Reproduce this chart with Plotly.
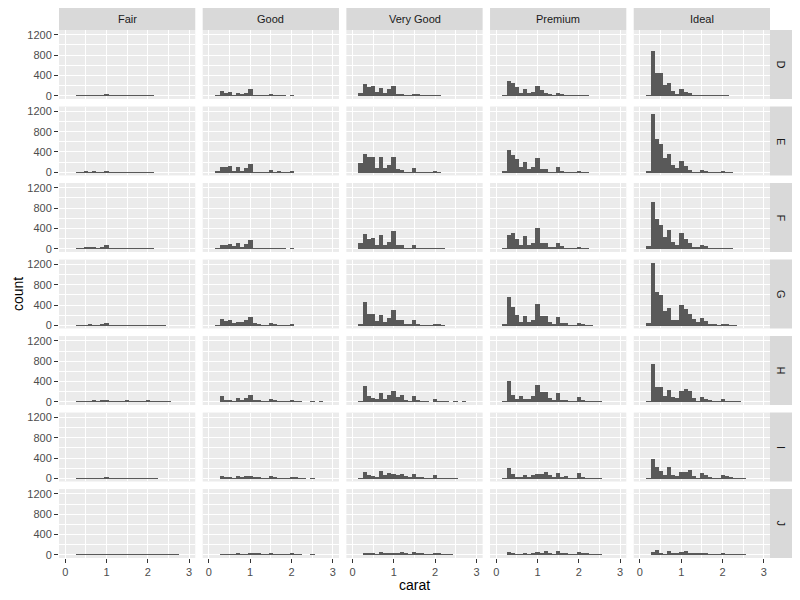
import plotly.graph_objects as go
from plotly.subplots import make_subplots

cuts = ["Fair", "Good", "Very Good", "Premium", "Ideal"]
colors = ["D", "E", "F", "G", "H", "I", "J"]

# histogram bin centres (carat, binwidth 0.1)
carat_mid = [0.2, 0.3, 0.4, 0.5, 0.6, 0.7, 0.8, 0.9, 1.0, 1.1, 1.2, 1.3, 1.4, 1.5,
             1.6, 1.7, 1.8, 1.9, 2.0, 2.1, 2.2, 2.3, 2.4, 2.5, 2.6, 2.7, 2.8, 2.9]

x_ticks = [0, 1, 2, 3]
y_ticks = [0, 400, 800, 1200]

counts_D = {
    "Fair":      [0, 3, 5, 5, 8, 5, 12, 3, 33, 5, 3, 3, 3, 10, 2, 2, 2, 2, 7, 3, 0, 0, 0, 0, 0, 0, 0, 0],
    "Good":      [10, 92, 60, 73, 13, 60, 20, 60, 132, 13, 13, 5, 3, 20, 5, 7, 2, 0, 13, 0, 0, 0, 0, 0, 0, 0, 0, 0],
    "Very Good": [53, 231, 178, 191, 73, 152, 46, 132, 198, 33, 20, 7, 7, 33, 20, 13, 13, 5, 13, 3, 0, 0, 0, 0, 0, 0, 0, 0],
    "Premium":   [10, 290, 257, 178, 60, 132, 60, 73, 191, 112, 60, 33, 13, 53, 20, 13, 7, 5, 13, 3, 3, 0, 0, 0, 0, 0, 0, 0],
    "Ideal":     [10, 882, 454, 454, 211, 257, 92, 40, 132, 79, 53, 10, 5, 13, 5, 3, 3, 3, 5, 2, 0, 0, 0, 0, 0, 0, 0, 0],
}
counts_E = {
    "Fair":      [0, 5, 10, 20, 15, 20, 3, 12, 40, 5, 3, 2, 2, 12, 2, 2, 2, 2, 8, 2, 0, 0, 0, 0, 0, 0, 0, 0],
    "Good":      [40, 118, 118, 131, 20, 112, 20, 92, 170, 13, 13, 5, 3, 52, 5, 20, 3, 2, 20, 0, 0, 0, 0, 0, 0, 0, 0, 0],
    "Very Good": [197, 367, 302, 302, 98, 302, 98, 150, 302, 66, 46, 13, 7, 100, 13, 10, 5, 5, 20, 5, 0, 0, 0, 0, 0, 0, 0, 0],
    "Premium":   [26, 446, 348, 262, 118, 216, 79, 118, 289, 72, 72, 13, 13, 112, 20, 7, 5, 5, 20, 5, 3, 0, 0, 0, 0, 0, 0, 0],
    "Ideal":     [40, 1155, 663, 558, 289, 361, 151, 85, 230, 131, 59, 7, 13, 52, 40, 13, 7, 5, 20, 5, 3, 0, 0, 0, 0, 0, 0, 0],
}
counts_F = {
    "Fair":      [0, 5, 12, 25, 20, 30, 5, 25, 70, 10, 5, 5, 5, 12, 3, 3, 2, 2, 8, 3, 0, 0, 0, 0, 0, 0, 0, 0],
    "Good":      [13, 73, 73, 92, 46, 112, 33, 92, 172, 13, 13, 5, 5, 13, 5, 5, 2, 0, 13, 0, 0, 0, 0, 0, 0, 0, 0, 0],
    "Very Good": [112, 290, 198, 211, 73, 270, 73, 132, 350, 73, 73, 13, 7, 73, 13, 13, 7, 5, 13, 13, 3, 0, 0, 0, 0, 0, 0, 0],
    "Premium":   [7, 270, 310, 191, 80, 251, 80, 112, 409, 112, 112, 33, 20, 112, 46, 13, 7, 5, 20, 5, 3, 0, 0, 0, 0, 0, 0, 0],
    "Ideal":     [53, 924, 587, 469, 231, 370, 132, 73, 310, 191, 112, 33, 20, 73, 46, 13, 7, 5, 13, 7, 3, 0, 0, 0, 0, 0, 0, 0],
}
counts_G = {
    "Fair":      [0, 5, 15, 12, 35, 15, 15, 20, 60, 15, 8, 5, 3, 12, 3, 3, 3, 3, 15, 12, 3, 3, 5, 0, 0, 0, 0, 0],
    "Good":      [7, 138, 92, 105, 52, 79, 66, 118, 170, 46, 20, 13, 7, 59, 20, 13, 5, 3, 20, 0, 0, 0, 0, 0, 0, 0, 0, 0],
    "Very Good": [40, 466, 230, 230, 98, 216, 79, 151, 308, 118, 118, 33, 20, 118, 20, 13, 5, 13, 33, 20, 5, 0, 0, 0, 0, 0, 0, 0],
    "Premium":   [26, 564, 374, 216, 79, 190, 79, 118, 426, 197, 184, 79, 20, 170, 52, 52, 13, 7, 52, 33, 13, 5, 0, 0, 0, 0, 0, 0],
    "Ideal":     [52, 1233, 663, 597, 295, 348, 118, 105, 407, 335, 236, 131, 66, 151, 98, 33, 20, 7, 33, 26, 13, 5, 0, 0, 0, 0, 0, 0],
}
counts_H = {
    "Fair":      [0, 3, 5, 5, 8, 30, 10, 20, 35, 10, 12, 5, 3, 30, 5, 5, 3, 3, 20, 5, 5, 3, 3, 5, 0, 0, 0, 0],
    "Good":      [0, 112, 33, 33, 3, 73, 20, 73, 132, 20, 20, 5, 5, 53, 20, 5, 3, 2, 20, 13, 2, 0, 0, 3, 0, 3, 0, 0],
    "Very Good": [13, 309, 112, 72, 53, 171, 53, 132, 210, 92, 132, 33, 13, 112, 33, 13, 3, 0, 60, 13, 7, 5, 0, 5, 0, 3, 0, 0],
    "Premium":   [5, 408, 132, 46, 112, 46, 60, 112, 330, 191, 191, 72, 33, 171, 33, 33, 7, 3, 92, 33, 13, 13, 13, 13, 0, 0, 0, 0],
    "Ideal":     [13, 744, 290, 290, 112, 230, 86, 66, 211, 250, 211, 72, 13, 92, 53, 33, 7, 5, 53, 13, 5, 5, 5, 0, 0, 0, 0, 0],
}
counts_I = {
    "Fair":      [0, 2, 3, 5, 3, 12, 8, 12, 25, 5, 8, 3, 3, 15, 3, 3, 2, 2, 15, 3, 2, 0, 0, 0, 0, 0, 0, 0],
    "Good":      [0, 46, 30, 20, 10, 60, 20, 50, 50, 25, 20, 10, 5, 50, 20, 15, 5, 5, 40, 20, 5, 3, 0, 3, 0, 0, 0, 0],
    "Very Good": [3, 131, 79, 46, 33, 151, 66, 112, 100, 79, 99, 53, 33, 99, 33, 33, 7, 5, 79, 7, 7, 7, 3, 3, 0, 0, 0, 0],
    "Premium":   [5, 204, 92, 26, 20, 72, 26, 72, 92, 92, 131, 72, 26, 105, 40, 52, 13, 7, 105, 40, 13, 13, 13, 13, 0, 0, 0, 0],
    "Ideal":     [5, 387, 230, 151, 72, 230, 72, 53, 131, 131, 171, 53, 13, 112, 72, 33, 13, 5, 72, 53, 33, 13, 13, 3, 0, 0, 0, 0],
}
counts_J = {
    "Fair":      [0, 2, 2, 3, 3, 8, 3, 5, 12, 5, 5, 3, 3, 5, 3, 2, 2, 3, 8, 5, 3, 3, 2, 2, 2, 2, 0, 0],
    "Good":      [0, 13, 13, 7, 13, 20, 13, 13, 26, 20, 20, 7, 7, 33, 13, 13, 3, 3, 20, 7, 3, 0, 0, 3, 0, 0, 0, 0],
    "Very Good": [0, 26, 26, 20, 7, 46, 20, 26, 26, 20, 46, 20, 13, 46, 20, 20, 7, 7, 33, 20, 13, 7, 3, 0, 0, 0, 0, 0],
    "Premium":   [0, 53, 33, 13, 7, 33, 13, 26, 46, 20, 66, 33, 13, 66, 20, 20, 13, 7, 53, 26, 20, 13, 7, 7, 0, 0, 0, 0],
    "Ideal":     [0, 53, 92, 33, 13, 73, 26, 26, 53, 73, 40, 33, 26, 33, 20, 13, 13, 7, 33, 13, 13, 7, 7, 7, 0, 0, 0, 0],
}
counts_by_color = {"D": counts_D, "E": counts_E, "F": counts_F, "G": counts_G,
                   "H": counts_H, "I": counts_I, "J": counts_J}

# ---- layout geometry (pixels, figure coordinates; page adds an 8px body margin) ----
W, H = 800, 600
ML, MR, MT, MB = 51, 38, 22, 50
PW, PH = W - ML - MR, H - MT - MB
HSP, VSP = 7.4, 7.6
STRIP = 22

nrows, ncols = len(colors), len(cuts)
fig = make_subplots(rows=nrows, cols=ncols,
                    horizontal_spacing=HSP / PW, vertical_spacing=VSP / PH)

FONT = "Liberation Sans, Arial, Helvetica, sans-serif"
BAR = "#595959"

for r, col_name in enumerate(colors, start=1):
    for c, cut in enumerate(cuts, start=1):
        fig.add_trace(go.Bar(x=carat_mid, y=counts_by_color[col_name][cut], width=0.1,
                             marker=dict(color=BAR, line=dict(width=0)),
                             showlegend=False, hovertemplate="%{x}: %{y}<extra></extra>"),
                      row=r, col=c)
        bottom = (r == nrows)
        left = (c == 1)
        fig.update_xaxes(range=[-0.15, 3.15], tickmode="array", tickvals=x_ticks,
                         ticktext=[str(v) for v in x_ticks],
                         showticklabels=bottom, ticks="outside" if bottom else "",
                         ticklen=4, tickwidth=1, tickcolor="#333333",
                         showgrid=True, gridcolor="white", gridwidth=1.1,
                         minor=dict(tick0=0.5, dtick=1, showgrid=True, gridcolor="white",
                                    gridwidth=0.55, ticks=""),
                         zeroline=False, showline=False, automargin=False,
                         tickfont=dict(family=FONT, size=11, color="#4D4D4D"),
                         row=r, col=c)
        fig.update_yaxes(range=[-61.65, 1294.65], tickmode="array", tickvals=y_ticks,
                         ticktext=[str(v) for v in y_ticks],
                         showticklabels=left, ticks="outside" if left else "",
                         ticklen=4, tickwidth=1, tickcolor="#333333",
                         showgrid=True, gridcolor="white", gridwidth=1.1,
                         minor=dict(tick0=200, dtick=400, showgrid=True, gridcolor="white",
                                    gridwidth=0.55, ticks=""),
                         zeroline=False, showline=False, automargin=False,
                         tickfont=dict(family=FONT, size=11, color="#4D4D4D"),
                         row=r, col=c)

shapes = []
annotations = []
# top strips
for c, cut in enumerate(cuts, start=1):
    xa = fig.layout["xaxis" if c == 1 else f"xaxis{c}"]
    x0, x1 = xa.domain
    shapes.append(dict(type="rect", xref="paper", yref="paper", x0=x0, x1=x1,
                       y0=1, y1=1 + STRIP / PH, fillcolor="#D9D9D9", line=dict(width=0),
                       layer="below"))
    annotations.append(dict(text=cut, xref="paper", yref="paper", x=(x0 + x1) / 2,
                            y=1 + STRIP / PH / 2, showarrow=False, xanchor="center",
                            yanchor="middle", font=dict(family=FONT, size=11, color="#1A1A1A")))
# right strips
for r, col_name in enumerate(colors, start=1):
    idx = (r - 1) * ncols + 1
    ya = fig.layout["yaxis" if idx == 1 else f"yaxis{idx}"]
    y0, y1 = ya.domain
    shapes.append(dict(type="rect", xref="paper", yref="paper", x0=1, x1=1 + STRIP / PW,
                       y0=y0, y1=y1, fillcolor="#D9D9D9", line=dict(width=0), layer="below"))
    annotations.append(dict(text=col_name, xref="paper", yref="paper",
                            x=1 + STRIP / PW / 2, y=(y0 + y1) / 2, showarrow=False,
                            textangle=90, xanchor="center", yanchor="middle",
                            font=dict(family=FONT, size=11, color="#1A1A1A")))
# axis titles
annotations.append(dict(text="carat", xref="paper", yref="paper", x=0.5, y=-27 / PH,
                        showarrow=False, xanchor="center", yanchor="middle",
                        font=dict(family=FONT, size=14, color="black")))
annotations.append(dict(text="count", xref="paper", yref="paper", x=(10 - ML) / PW, y=0.5,
                        showarrow=False, textangle=-90, xanchor="center", yanchor="middle",
                        font=dict(family=FONT, size=14, color="black")))

fig.update_layout(width=W, height=H, margin=dict(l=ML, r=MR, t=MT, b=MB),
                  paper_bgcolor="white", plot_bgcolor="#EBEBEB",
                  bargap=0, shapes=shapes, annotations=annotations,
                  font=dict(family=FONT))

fig.write_html("out.html")
